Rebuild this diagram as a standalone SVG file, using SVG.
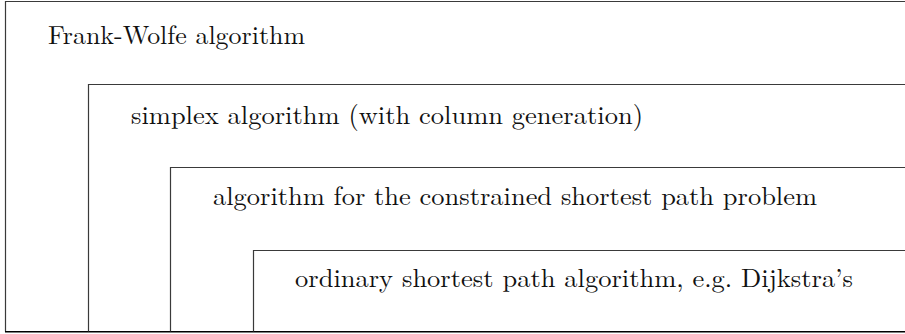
<svg xmlns="http://www.w3.org/2000/svg" width="905" height="334" viewBox="0 0 905 334">
<style>
.box{fill:none;stroke:#3a3a3a;stroke-width:1.2}
.base{fill:none;stroke:#000;stroke-width:1.6}
.lbl{font-family:"Latin Modern Roman","Liberation Serif","DejaVu Serif",serif;font-size:26px;fill:#111}
</style>
<rect width="905" height="334" fill="#fff"/>
<g id="frank-wolfe">
<path class="box" d="M910 1.5 H5.5 V331.5"/>
<path class="base" d="M5 331.7 H910"/>
<text class="lbl" x="48" y="44" textLength="257" lengthAdjust="spacingAndGlyphs">Frank-Wolfe algorithm</text>
</g>
<g id="simplex">
<path class="box" d="M910 84.5 H88.5 V331.5"/>
<text class="lbl" x="131" y="124" textLength="512" lengthAdjust="spacingAndGlyphs">simplex algorithm (with column generation)</text>
</g>
<g id="constrained">
<path class="box" d="M910 167.5 H170.5 V331.5"/>
<text class="lbl" x="213" y="205" textLength="604" lengthAdjust="spacingAndGlyphs">algorithm for the constrained shortest path problem</text>
</g>
<g id="dijkstra">
<path class="box" d="M910 250.5 H253.5 V331.5"/>
<text class="lbl" x="295" y="287" textLength="558" lengthAdjust="spacingAndGlyphs">ordinary shortest path algorithm, e.g. Dijkstra’s</text>
</g>
<g id="connectors"/>
</svg>
